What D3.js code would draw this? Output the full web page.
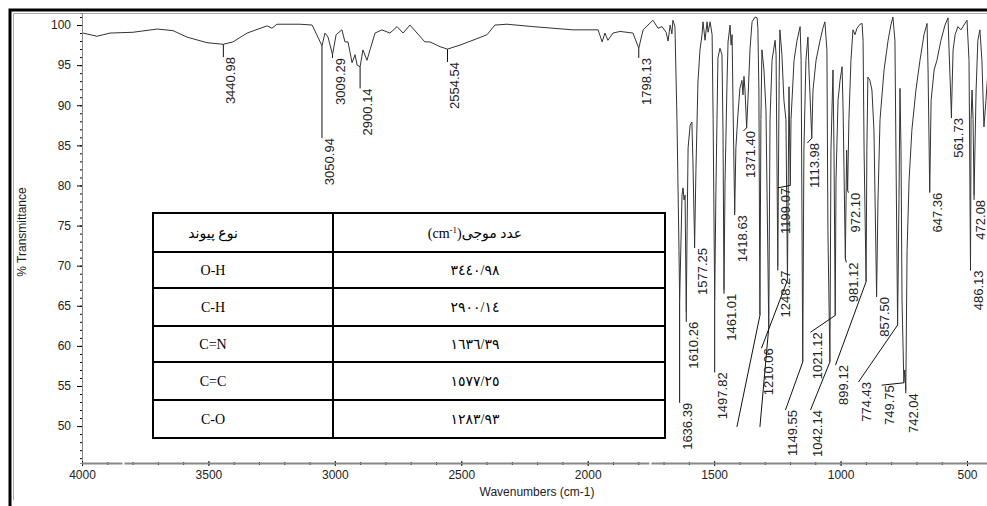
<!DOCTYPE html>
<html>
<head>
<meta charset="utf-8">
<script src="https://cdn.jsdelivr.net/npm/d3@7"></script>
<style>
body { margin: 0; background: #fff; }
svg { display: block; font-family: "Liberation Sans", Arial, sans-serif; }
</style>
</head>
<body>
<svg id="chart" width="987" height="506"></svg>
<script>
// spectrum (cm-1, %T)
var wavenumbers = [
    3996, 3941, 3889, 3798, 3703, 3640, 3585, 3506, 3440.98, 3403, 3347, 3268, 3249, 3229, 3138, 3090, 3067,
    3050.94, 3039, 3027, 3009.29, 2995, 2972, 2960, 2948, 2932, 2920, 2912, 2900.14, 2889, 2873, 2861, 2841,
    2814, 2782, 2754, 2730, 2703, 2675, 2644, 2624, 2584, 2554.54, 2505, 2438, 2398, 2367, 2319, 2216, 2137,
    2058, 1979, 1959, 1943, 1932, 1920, 1900, 1872, 1821, 1798.13, 1781, 1742, 1722, 1706, 1690, 1682, 1674,
    1667, 1663, 1655, 1647, 1639, 1636.39, 1631, 1627, 1623, 1619, 1615, 1610.26, 1607, 1603, 1595, 1588, 1584,
    1577.25, 1572, 1564, 1556, 1548, 1544, 1536, 1528, 1524, 1516, 1508, 1504, 1497.82, 1493, 1485, 1477, 1469,
    1465, 1461.01, 1457, 1449, 1445, 1437, 1433, 1429, 1425, 1418.63, 1414, 1406, 1398, 1390, 1386, 1382, 1378,
    1371.40, 1366, 1358, 1350, 1338, 1330, 1327, 1323, 1319, 1315, 1311, 1303, 1295, 1283.93, 1279, 1271, 1259,
    1255, 1248.27, 1243, 1240, 1232, 1224, 1216, 1210.06, 1204, 1199.07, 1196, 1184, 1172, 1160, 1156, 1149.55,
    1145, 1137, 1129, 1125, 1113.98, 1109, 1097, 1081, 1070, 1062, 1054, 1050, 1042.14, 1038, 1030, 1026, 1021.12,
    1018, 1010, 1002, 994, 990, 981.12, 976, 972.10, 967, 959, 951, 943, 935, 923, 915, 911, 907, 899.12, 896,
    892, 884, 876, 868, 857.50, 852, 844, 828, 812, 801, 793, 785, 781, 774.43, 769, 765, 761, 757, 749.75, 746,
    742.04, 737, 729, 718, 702, 686, 670, 658, 654, 647.36, 642, 630, 619, 603, 587, 575, 571, 561.73, 555, 547,
    536, 524, 512, 500, 492, 486.13, 484, 480, 476, 472.08, 464, 457, 449, 441, 433, 425, 417
];
var transmittance = [
    99.0, 98.6, 99.0, 99.1, 99.5, 99.3, 98.5, 97.8, 97.6, 97.9, 99.0, 99.9, 99.6, 100.1, 100.1, 100.0, 98.5,
    97.4, 99.0, 98.5, 96.3, 98.8, 99.4, 97.9, 97.9, 95.3, 96.3, 95.0, 94.8, 96.9, 95.6, 96.9, 99.0,
    99.4, 99.0, 99.8, 99.0, 100.0, 99.0, 97.9, 97.9, 97.3, 97.0, 97.5, 98.3, 98.8, 100.0, 100.1, 99.8, 99.6,
    99.4, 99.4, 99.4, 97.9, 99.0, 98.1, 99.0, 99.2, 99.0, 97.1, 99.4, 100.6, 99.6, 99.8, 99.1, 98.0, 100.0,
    98.9, 100.6, 99.8, 88.2, 71.9, 65.7, 73.2, 78.8, 79.7, 78.2, 78.8, 64.2, 74.4, 84.7, 87.5, 87.9, 83.2,
    72.6, 81.9, 92.9, 96.9, 98.8, 100.4, 98.1, 100.4, 99.1, 100.4, 98.8, 88.2, 65.7, 79.4, 95.9, 97.1, 96.3,
    86.9, 67.0, 80.4, 92.9, 97.9, 100.0, 97.5, 98.8, 89.4, 76.7, 84.7, 88.8, 92.1, 93.1, 91.3, 93.6, 91.9,
    87.2, 90.9, 97.1, 100.4, 101.0, 100.9, 99.6, 91.9, 63.8, 88.2, 96.9, 94.4, 89.4, 62.3, 88.2, 95.6, 98.1,
    96.3, 69.9, 93.1, 99.4, 96.3, 90.6, 88.2, 68.2, 92.3, 80.0, 88.2, 95.6, 98.1, 99.8, 95.6, 58.0,
    84.4, 95.6, 98.5, 94.4, 85.9, 91.9, 95.6, 98.1, 99.6, 100.4, 96.9, 74.2, 58.0, 84.4, 94.4, 84.4, 63.8,
    80.7, 90.6, 93.1, 94.8, 89.4, 70.9, 84.4, 79.4, 88.2, 95.6, 99.4, 98.8, 99.6, 100.1, 100.2, 98.1, 84.4, 68.0, 84.4,
    93.5, 93.1, 91.9, 86.9, 66.3, 78.2, 88.2, 94.4, 98.1, 100.0, 101.0, 98.1, 84.4, 62.6, 78.2, 92.1, 84.4, 65.7, 55.4, 57.0,
    54.5, 71.9, 80.7, 86.9, 91.9, 95.6, 98.8, 100.2, 94.4, 79.2, 90.6, 94.4, 95.6, 98.1, 100.0, 100.9, 96.9, 88.8, 96.9, 98.8,
    99.8, 99.4, 100.0, 100.6, 95.6, 69.7, 88.2, 91.9, 88.2, 78.8, 91.9, 98.1, 99.4, 95.6, 87.3, 90.6, 94.4
];

// peak annotations: peak position, where the leader ends (label top)
var peakLabels = ['3440.98', '3050.94', '3009.29', '2900.14', '2554.54', '1798.13', '1636.39', '1610.26',
    '1577.25', '1497.82', '1461.01', '1418.63', '1371.40', '1248.27', '1210.06', '1199.07', '1149.55',
    '1113.98', '1042.14', '1021.12', '981.12', '972.10', '899.12', '857.50', '774.43', '749.75', '742.04',
    '647.36', '561.73', '486.13', '472.08', '', ''];
var peakWavenumbers = [3440.98, 3050.94, 3009.29, 2900.14, 2554.54, 1798.13, 1636.39, 1610.26,
    1577.25, 1497.82, 1461.01, 1418.63, 1371.40, 1248.27, 1210.06, 1199.07, 1149.55,
    1113.98, 1042.14, 1021.12, 981.12, 972.10, 899.12, 857.50, 774.43, 749.75, 742.04,
    647.36, 561.73, 486.13, 472.08, 1319, 1283.93];
var labelWavenumbers = [3440.98, 3050.94, 3009.29, 2900.14, 2554.54, 1798.13, 1636.39, 1610.26,
    1577.25, 1497.82, 1461.01, 1418.63, 1384, 1248.27, 1313, 1249, 1218,
    1131, 1119, 1119, 977, 969, 1020, 857.50, 929, 838, 742.04,
    647.36, 561.73, 486.13, 472.08, 1410, 1319];
var labelTops = [96.0, 85.9, 95.9, 92.1, 95.4, 95.9, 52.9, 63.0,
    72.2, 56.7, 66.5, 76.3, 86.8, 69.4, 59.7, 79.7, 52.0,
    85.3, 52.0, 61.7, 70.4, 79.1, 57.6, 66.1, 55.5, 55.1, 54.1,
    79.1, 88.4, 69.4, 78.2, 49.9, 49.9];

var xTicks = [4000, 3500, 3000, 2500, 2000, 1500, 1000, 500];
var yTicks = [50, 55, 60, 65, 70, 75, 80, 85, 90, 95, 100];
var axisBreaks = [3836, 1752];

// table of assignments
var tableHeader = ['نوع پیوند', 'عدد موجی'];
var tableBonds = ['O-H', 'C-H', 'C=N', 'C=C', 'C-O'];
var tableValues = ['٣٤٤٠/٩٨', '٢٩٠٠/١٤', '١٦٣٦/٣٩', '١٥٧٧/٢٥', '١٢٨٣/٩٣'];

var chart = {
    width: 987,
    height: 506,
    left: 82,
    right: 967,
    top: 13,
    bottom: 463,
    text: '#222',
    line: '#333'
};

var svg = d3.select('#chart');
var x = d3.scaleLinear().domain([4000, 500]).range([chart.left, chart.right]);
var y = d3.scaleLinear().domain([45.4, 101.5]).range([chart.bottom, chart.top]);

// outer frame of the original screenshot
svg.append('path').attr('d', 'M10,506V10H987').attr('fill', 'none')
    .attr('stroke', '#000').attr('stroke-width', 3);
svg.append('path').attr('d', 'M13.5,500V13.5H987').attr('fill', 'none')
    .attr('stroke', '#aaa').attr('stroke-width', 1);

svg.append('clipPath').attr('id', 'plot-clip').append('rect')
    .attr('x', chart.left + 1).attr('y', chart.top + 1)
    .attr('width', chart.width - chart.left).attr('height', chart.bottom - chart.top - 2);

// y axis
var yMinor = svg.append('g').attr('transform', 'translate(' + chart.left + ',0)')
    .call(d3.axisLeft(y).tickValues(d3.range(46, 102, 1)).tickSize(2).tickFormat(''));
yMinor.select('.domain').attr('stroke', '#888');
var yAxis = svg.append('g').attr('transform', 'translate(' + chart.left + ',0)')
    .call(d3.axisLeft(y).tickValues(yTicks).tickSize(5).tickPadding(6));
yAxis.select('.domain').remove();
yAxis.selectAll('text').attr('fill', chart.text).style('font-size', '12px');

// x axis, the line has two small breaks like the original
var xMinor = svg.append('g').attr('transform', 'translate(0,' + chart.bottom + ')')
    .call(d3.axisBottom(x).tickValues(d3.range(4000, 400, -100)).tickSize(2).tickFormat(''));
xMinor.select('.domain').remove();
xMinor.selectAll('.tick line').attr('y1', -1);
var xAxis = svg.append('g').attr('transform', 'translate(0,' + chart.bottom + ')')
    .call(d3.axisBottom(x).tickValues(xTicks).tickSize(3).tickPadding(4).tickFormat(d3.format('d')));
xAxis.select('.domain').remove();
xAxis.selectAll('.tick line').attr('y1', -2);
xAxis.selectAll('text').attr('fill', chart.text).style('font-size', '12px');
var breakX = axisBreaks.map(x).sort(d3.ascending);
var segs = [[chart.left, breakX[0] - 1], [breakX[0] + 1, breakX[1] - 1], [breakX[1] + 1, chart.width]];
svg.append('g').selectAll('line').data(segs).join('line')
    .attr('x1', function(d) { return d[0]; }).attr('x2', function(d) { return d[1]; })
    .attr('y1', chart.bottom + 0.5).attr('y2', chart.bottom + 0.5)
    .attr('stroke', '#888').attr('stroke-width', 2);

svg.append('text').attr('x', 537).attr('y', 496).attr('text-anchor', 'middle')
    .attr('fill', chart.text).style('font-size', '12px').text('Wavenumbers (cm-1)');
svg.append('text').attr('transform', 'translate(26,232) rotate(-90)').attr('text-anchor', 'middle')
    .attr('fill', chart.text).style('font-size', '12px').text('% Transmittance');

// spectrum
var spectrum = wavenumbers.map(function(w, i) { return {wn: w, t: transmittance[i]}; });
var line = d3.line().x(function(d) { return x(d.wn); }).y(function(d) { return y(d.t); });
var plot = svg.append('g').attr('clip-path', 'url(#plot-clip)');
plot.append('path').attr('d', line(spectrum)).attr('fill', 'none')
    .attr('stroke', chart.line).attr('stroke-width', 1);

// peak leaders and labels
var peaks = peakLabels.map(function(label, i) {
    var j = wavenumbers.indexOf(peakWavenumbers[i]);
    return {label: label, wn: peakWavenumbers[i], t: transmittance[j], lwn: labelWavenumbers[i], lt: labelTops[i]};
});
plot.selectAll('line.leader').data(peaks).join('line').attr('class', 'leader')
    .attr('x1', function(d) { return x(d.wn); }).attr('y1', function(d) { return y(d.t); })
    .attr('x2', function(d) { return x(d.lwn); }).attr('y2', function(d) { return y(d.lt); })
    .attr('stroke', '#111').attr('stroke-width', 1);
plot.selectAll('text.peak').data(peaks.filter(function(d) { return d.label; })).join('text')
    .attr('class', 'peak')
    .attr('transform', function(d) { return 'translate(' + Math.min(x(d.lwn) + 12, 985) + ',' + y(d.lt) + ') rotate(-90)'; })
    .attr('text-anchor', 'end').attr('fill', chart.text).style('font-size', '13px')
    .text(function(d) { return d.label; });

// table overlay
var table = {x: [153, 333, 665], y: [213, 252, 288, 326, 362, 400, 438], col1: 213, col2: 475};
var tg = svg.append('g').style('font-family', '"Liberation Serif", "DejaVu Sans", serif').style('font-size', '14px');
tg.append('rect').attr('x', table.x[0]).attr('y', table.y[0])
    .attr('width', table.x[2] - table.x[0]).attr('height', table.y[6] - table.y[0])
    .attr('fill', '#fff').attr('stroke', '#000').attr('stroke-width', 2);
tg.append('line').attr('x1', table.x[1]).attr('x2', table.x[1]).attr('y1', table.y[0]).attr('y2', table.y[6])
    .attr('stroke', '#000').attr('stroke-width', 2);
tg.selectAll('line.row').data(table.y.slice(1, 6)).join('line').attr('class', 'row')
    .attr('x1', table.x[0]).attr('x2', table.x[2])
    .attr('y1', function(d) { return d; }).attr('y2', function(d) { return d; })
    .attr('stroke', '#000').attr('stroke-width', 2);

var rowMid = function(i) { return (table.y[i] + table.y[i + 1]) / 2 + 5; };
tg.append('text').attr('x', table.col1).attr('y', rowMid(0)).attr('text-anchor', 'middle')
    .attr('direction', 'rtl').text(tableHeader[0]);
var head = tg.append('text').attr('x', table.col2).attr('y', rowMid(0)).attr('text-anchor', 'middle');
head.append('tspan').text('(cm');
head.append('tspan').attr('dy', -5).style('font-size', '9px').text('-1');
head.append('tspan').attr('dy', 5).text(')');
head.append('tspan').text(tableHeader[1]);

tg.selectAll('text.bond').data(tableBonds).join('text').attr('class', 'bond')
    .attr('x', table.col1).attr('y', function(d, i) { return rowMid(i + 1); })
    .attr('text-anchor', 'middle').text(function(d) { return d; });
tg.selectAll('text.val').data(tableValues).join('text').attr('class', 'val')
    .attr('x', table.col2).attr('y', function(d, i) { return rowMid(i + 1); })
    .attr('text-anchor', 'middle').text(function(d) { return d; });
</script>
</body>
</html>
